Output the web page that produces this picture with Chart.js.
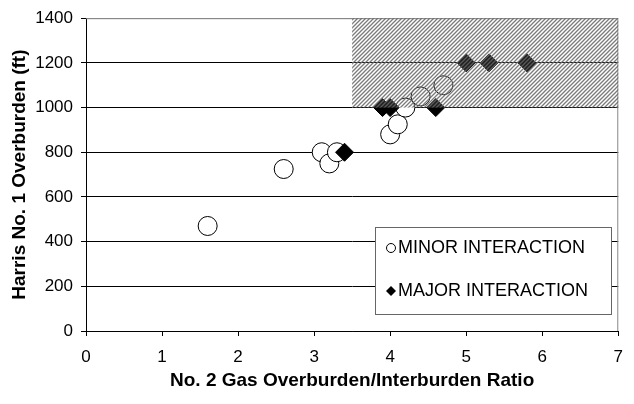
<!DOCTYPE html>
<html>
<head>
<meta charset="utf-8">
<script src="https://cdn.jsdelivr.net/npm/chart.js@4.4.1/dist/chart.umd.min.js"></script>
<style>
  html, body { margin: 0; padding: 0; background: #fff; }
  #wrap { width: 634px; height: 404px; }
</style>
</head>
<body>
<div id="wrap"><canvas id="chart" width="634" height="404"></canvas></div>
<script>
// Minor interaction points (ratio, overburden ft)
const minorRatio = [1.6, 2.6, 3.1, 3.2, 3.3, 4.0, 4.1, 4.2, 4.4, 4.7];
const minorDepth = [470, 725, 800, 750, 800, 880, 925, 1000, 1050, 1100];

// Major interaction points
const majorRatio = [3.4, 3.9, 4.0, 4.6, 5.0, 5.3, 5.8];
const majorDepth = [800, 1000, 1000, 1000, 1200, 1200, 1200];

const legendLabels = ['MINOR INTERACTION', 'MAJOR INTERACTION'];

// shaded zone (ratio > 3.5, overburden > 1000 ft)
const zoneX = [3.5, 7];
const zoneY = [1000, 1400];

const FONT = '"Liberation Sans", Arial, sans-serif';

const toPoints = (xs, ys) => xs.map((x, i) => ({ x, y: ys[i] }));

const makeHatch = (ctx) => {
  const c = document.createElement('canvas');
  c.width = 4; c.height = 4;
  const g = c.getContext('2d');
  g.strokeStyle = 'rgba(100,100,100,0.85)';
  g.lineWidth = 1.3;
  g.beginPath();
  g.moveTo(-1, 5); g.lineTo(5, -1);
  g.moveTo(-1, 1); g.lineTo(1, -1);
  g.moveTo(3, 5); g.lineTo(5, 3);
  g.stroke();
  return ctx.createPattern(c, 'repeat');
};

const zonePlugin = {
  id: 'zone',
  afterDatasetsDraw(chart) {
    const { ctx, scales: { x, y } } = chart;
    const left = x.getPixelForValue(zoneX[0]);
    const right = x.getPixelForValue(zoneX[1]);
    const top = y.getPixelForValue(zoneY[1]);
    const bottom = y.getPixelForValue(zoneY[0]);
    ctx.save();
    ctx.fillStyle = 'rgba(255,255,255,0.12)';
    ctx.fillRect(left, top, right - left, bottom - top);
    ctx.fillStyle = makeHatch(ctx);
    ctx.fillRect(left, top, right - left, bottom - top);
    ctx.restore();
  }
};

// legend box inside the plot, lower right
const legendPlugin = {
  id: 'boxLegend',
  afterDraw(chart) {
    const { ctx } = chart;
    const bx = 375, by = 227, bw = 236, bh = 87;
    ctx.save();
    ctx.fillStyle = '#fff';
    ctx.fillRect(bx, by, bw, bh);
    ctx.strokeStyle = '#666';
    ctx.lineWidth = 1;
    ctx.strokeRect(bx + 0.5, by + 0.5, bw, bh);

    ctx.font = '18px ' + FONT;
    ctx.textBaseline = 'middle';

    // open circle
    ctx.beginPath();
    ctx.arc(391, 248, 4.5, 0, Math.PI * 2);
    ctx.fillStyle = '#fff';
    ctx.fill();
    ctx.strokeStyle = '#000';
    ctx.stroke();
    ctx.fillStyle = '#000';
    ctx.fillText(legendLabels[0], 398, 248);

    // filled diamond
    ctx.beginPath();
    ctx.moveTo(391, 286); ctx.lineTo(396, 291); ctx.lineTo(391, 296); ctx.lineTo(386, 291);
    ctx.closePath();
    ctx.fill();
    ctx.fillText(legendLabels[1], 398, 291);
    ctx.restore();
  }
};

// grey frame on top and right
const framePlugin = {
  id: 'frame',
  beforeDatasetsDraw(chart) {
    const { ctx, chartArea: a } = chart;
    ctx.save();
    ctx.strokeStyle = '#888';
    ctx.lineWidth = 1;
    ctx.beginPath();
    ctx.moveTo(a.left, a.top + 0.5);
    ctx.lineTo(a.right - 0.5, a.top + 0.5);
    ctx.lineTo(a.right - 0.5, a.bottom);
    ctx.stroke();
    ctx.restore();
  }
};

const tickFont = { family: FONT, size: 17 };
const titleFont = { family: FONT, size: 19, weight: 'bold' };

new Chart(document.getElementById('chart'), {
  type: 'scatter',
  data: {
    datasets: [
      {
        label: legendLabels[1],
        data: toPoints(majorRatio, majorDepth),
        pointStyle: 'rectRot',
        pointRadius: 9,
        backgroundColor: '#000',
        borderColor: '#000',
        borderWidth: 1,
        order: 0
      },
      {
        label: legendLabels[0],
        data: toPoints(minorRatio, minorDepth),
        pointStyle: 'circle',
        pointRadius: 9.5,
        backgroundColor: '#fff',
        borderColor: '#000',
        borderWidth: 1,
        order: 1
      }
    ]
  },
  options: {
    responsive: false,
    animation: false,
    layout: { padding: { top: 16, right: 11, left: 0, bottom: 0 } },
    plugins: { legend: { display: false }, tooltip: { enabled: false } },
    scales: {
      x: {
        type: 'linear',
        min: 0, max: 7,
        ticks: { stepSize: 1, color: '#000', font: tickFont, padding: 11 },
        grid: { drawOnChartArea: false, color: '#000', tickLength: 5 },
        border: { color: '#000' },
        title: { display: true, text: 'No. 2 Gas Overburden/Interburden Ratio', color: '#000', font: titleFont, padding: { top: 0, bottom: 12 } },
        afterFit: (s) => { s.height = 73; }
      },
      y: {
        min: 0, max: 1400,
        ticks: { stepSize: 200, color: '#000', font: tickFont, padding: 8, callback: (v) => String(v) },
        grid: {
          color: (c) => c.tick && c.tick.value === 1400 ? '#888' : '#000',
          tickColor: '#000',
          tickLength: 5
        },
        border: { color: '#000' },
        title: { display: true, text: 'Harris No. 1 Overburden (ft)', color: '#000', font: titleFont, padding: { top: 8, bottom: 0 } },
        afterFit: (s) => { s.width = 86; }
      }
    }
  },
  plugins: [framePlugin, zonePlugin, legendPlugin]
});
</script>
</body>
</html>
